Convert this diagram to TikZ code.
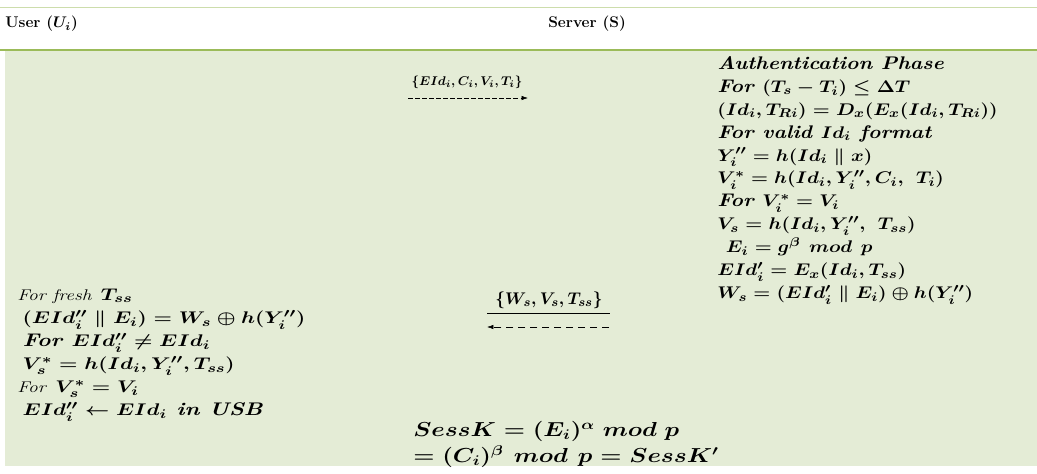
\documentclass[tikz,border=0pt]{standalone}
\usepackage{amsmath,amssymb}
\usepackage{graphicx}
\usepackage{xcolor}
\usepackage{tikz}
\usetikzlibrary{arrows.meta, positioning, calc}

\definecolor{phasefill}{HTML}{E4ECD6}
\definecolor{phaserule}{HTML}{9BBB59}
% wide lines of steps, stretched sideways like the wide serif of the table
\newcommand{\widelines}[2]{\scalebox{#1}[1]{\begin{tabular}{@{}l@{}}#2\end{tabular}}}

\tikzset{
  headlabel/.style={
    anchor=base west, inner sep=0pt,
    font=\bfseries\boldmath\fontsize{11}{12}\selectfont
  },
  stepblock/.style={
    anchor=north west, inner sep=0pt,
    font=\bfseries\itshape\boldmath\fontsize{13}{16.3}\selectfont
  },
  msglabel/.style={
    inner sep=0pt, font=\bfseries\boldmath\fontsize{9.5}{11}\selectfont
  },
  msgarrow/.style={
    -{Latex[length=1.6mm, width=1.1mm]}, thin, dash pattern=on 3.5pt off 1.5pt
  },
}

\begin{document}
\begin{tikzpicture}[x=0.025cm, y=-0.025cm]
  \useasboundingbox (0,0) rectangle (1037,473);

  % --- table background and rules ---
  \fill[phasefill] (5,50) rectangle (1037,466);
  \draw[phaserule!50, line width=0.6pt] (0,7) -- (1037,7);
  \draw[phaserule, line width=1.2pt] (0,50) -- (1037,50);

  % --- header row ---
  \node[headlabel] (user) at (5,28) {User ($U_i$)};
  \node[headlabel] (server) at (548,28) {Server (S)};

  % --- server side ---
  \node[stepblock] (serverside) at (717,53) {\widelines{1.15}{%
    Authentication Phase\\
    For $(T_s - T_i) \le \Delta T$\\
    $(Id_i, T_{Ri}) = D_x(E_x(Id_i, T_{Ri}))$\\
    For valid $Id_i$ format\\
    $Y_i'' = h(Id_i \parallel x)$\\
    $V_i^{*} = h(Id_i, Y_i'', C_i,\ T_i)$\\
    For $V_i^{*} = V_i$\\
    $V_s = h(Id_i, Y_i'',\ T_{ss})$\\
    $\ E_i = g^{\beta}\ mod\ p$\\
    $EId_i' = E_x(Id_i, T_{ss})$\\
    $W_s = (EId_i' \parallel E_i) \oplus h(Y_i'')$}};

  % --- user side ---
  \node[stepblock, font=\bfseries\itshape\boldmath\fontsize{13}{16.4}\selectfont]
    (userside) at (17,284) {\widelines{1.25}{%
    {\mdseries\fontsize{11}{16.4}\selectfont For fresh} $T_{ss}$\\
    \hspace{3pt}$(EId_i'' \parallel E_i) = W_s \oplus h(Y_i'')$\\
    \hspace{3pt}For $EId_i'' \neq EId_i$\\
    \hspace{3pt}$V_s^{*} = h(Id_i, Y_i'', T_{ss})$\\
    {\mdseries\fontsize{11}{16.4}\selectfont For} $V_s^{*} = V_i$\\
    \hspace{3pt}$EId_i'' \leftarrow EId_i$ in USB}};

  % --- messages ---
  \node[msglabel] (msg1) at (467,82) {$\{EId_i, C_i, V_i, T_i\}$};
  \coordinate (m1from) at (408,98);
  \coordinate (m1to) at (528,98);
  \draw[msgarrow] (m1from) -- (m1to);

  \node[msglabel, font=\bfseries\boldmath\fontsize{12.5}{14}\selectfont]
    (msg2) at (549,300) {$\{W_s, V_s, T_{ss}\}$};
  \coordinate (m2left) at (487,313);
  \coordinate (m2right) at (610,313);
  \draw[thin] (m2left) -- (m2right);
  \coordinate (m2from) at (609,327);
  \coordinate (m2to) at (487,327);
  \draw[msgarrow, dash pattern=on 5pt off 3.5pt] (m2from) -- (m2to);

  % --- session key ---
  \node[stepblock, font=\bfseries\itshape\boldmath\fontsize{14.5}{18.5}\selectfont]
    (sesskey) at (413,418) {\widelines{1.2}{%
    $SessK = (E_i)^{\alpha}\;mod\;p$\\
    $= (C_i)^{\beta}\ mod\ p = SessK'$}};
\end{tikzpicture}
\end{document}
